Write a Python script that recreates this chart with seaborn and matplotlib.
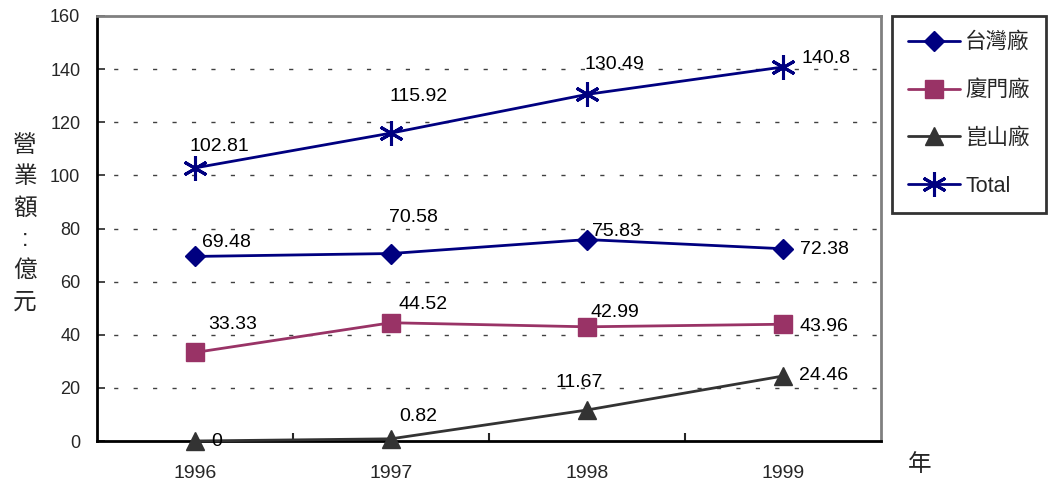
import pandas as pd
import matplotlib
matplotlib.use('Agg')
import matplotlib.pyplot as plt
import seaborn as sns
from matplotlib.lines import Line2D
from matplotlib.ticker import FixedLocator

# Data
years = ['1996', '1997', '1998', '1999']
taiwan = [69.48, 70.58, 75.83, 72.38]
xiamen = [33.33, 44.52, 42.99, 43.96]
kunshan = [0, 0.82, 11.67, 24.46]
total = [102.81, 115.92, 130.49, 140.8]
series_names = ['台灣廠', '廈門廠', '崑山廠', 'Total']
y_ticks = [0, 20, 40, 60, 80, 100, 120, 140, 160]

sns.set_style('white')
plt.rcParams['font.family'] = ['Liberation Sans', 'Noto Sans CJK TC', 'DejaVu Sans']

fig = plt.figure(figsize=(10.54, 4.83), dpi=100)
ax = fig.add_axes([97 / 1054, 1 - 441 / 483, (881 - 97) / 1054, (441 - 16) / 483])

styles = [
    dict(color='#000080', marker='D', markersize=10.5, mec='#000080'),
    dict(color='#993366', marker='s', markersize=13, mec='#993366'),
    dict(color='#333333', marker='^', markersize=13, mec='#333333'),
    dict(color='#000080', marker=(6, 2, 0), markersize=18, mec='#000080', mew=2.2),
]
values = [taiwan, xiamen, kunshan, total]

for name, vals, st in zip(series_names, values, styles):
    df = pd.DataFrame({'Year': years, 'Value': vals})
    sns.lineplot(data=df, x='Year', y='Value', ax=ax, linewidth=2, legend=False,
                 color=st['color'], marker=st['marker'], markersize=st['markersize'],
                 markeredgecolor=st['mec'], markeredgewidth=st.get('mew', 1), zorder=3)
for line in ax.lines:
    line.set_clip_on(False)

# Data label offsets (pixels, from the point to the label centre)
offsets = [
    [(31, 14), (22, 36), (29, 8), (41, -1)],
    [(38, 28), (32, 18), (28, 14), (41, -2)],
    [(22, -1), (27, 22), (-8, 28), (41, 1)],
    [(24, 21), (28, 37), (27, 30), (43, 8)],
]
for vals, offs in zip(values, offsets):
    for i, (v, off) in enumerate(zip(vals, offs)):
        ax.annotate(f'{v:g}', (i, v), xytext=off, textcoords='offset pixels',
                    ha='center', va='center', fontsize=14, color='black', zorder=4)

ax.set_xlim(-0.5, 3.5)
ax.set_ylim(0, 160)
ax.set_yticks(y_ticks)
ax.set_xlabel('')
ax.set_ylabel('')
ax.tick_params(axis='y', which='major', direction='in', length=6, width=1.2,
               labelsize=13, pad=12, left=True)
ax.tick_params(axis='x', which='major', length=0, pad=17, labelsize=14)
ax.xaxis.set_minor_locator(FixedLocator([0.5, 1.5, 2.5]))
ax.tick_params(axis='x', which='minor', direction='in', length=6, width=1.5, bottom=True)

for y in y_ticks[1:-1]:
    ax.axhline(y, color='#404040', linewidth=1, linestyle=(2, (3, 11)), zorder=1)

for side in ['left', 'bottom']:
    ax.spines[side].set_color('black')
    ax.spines[side].set_linewidth(2)
for side in ['top', 'right']:
    ax.spines[side].set_color('#808080')
    ax.spines[side].set_linewidth(2)

# Vertical axis title and x title
fig.text(25 / 1054, 1 - 224 / 483, '營\n業\n額\n:\n億\n元', ha='center', va='center',
         fontsize=17, linespacing=1.55)
fig.text(920 / 1054, 1 - 465 / 483, '年', ha='center', va='center', fontsize=17)

handles = [Line2D([], [], color=st['color'], marker=st['marker'], markersize=st['markersize'],
                  markeredgecolor=st['mec'], markeredgewidth=st.get('mew', 1), linewidth=2)
           for st in styles]
leg = fig.legend(handles, series_names, loc='upper left',
                 bbox_to_anchor=(892 / 1054, 1 - 16 / 483), frameon=True, fancybox=False,
                 fontsize=15.5, handlelength=2.4, labelspacing=1.25, borderpad=0.75,
                 handletextpad=0.25, borderaxespad=0)
leg.get_frame().set_edgecolor('black')
leg.get_frame().set_linewidth(2)

fig.savefig('out.png', dpi=100)
